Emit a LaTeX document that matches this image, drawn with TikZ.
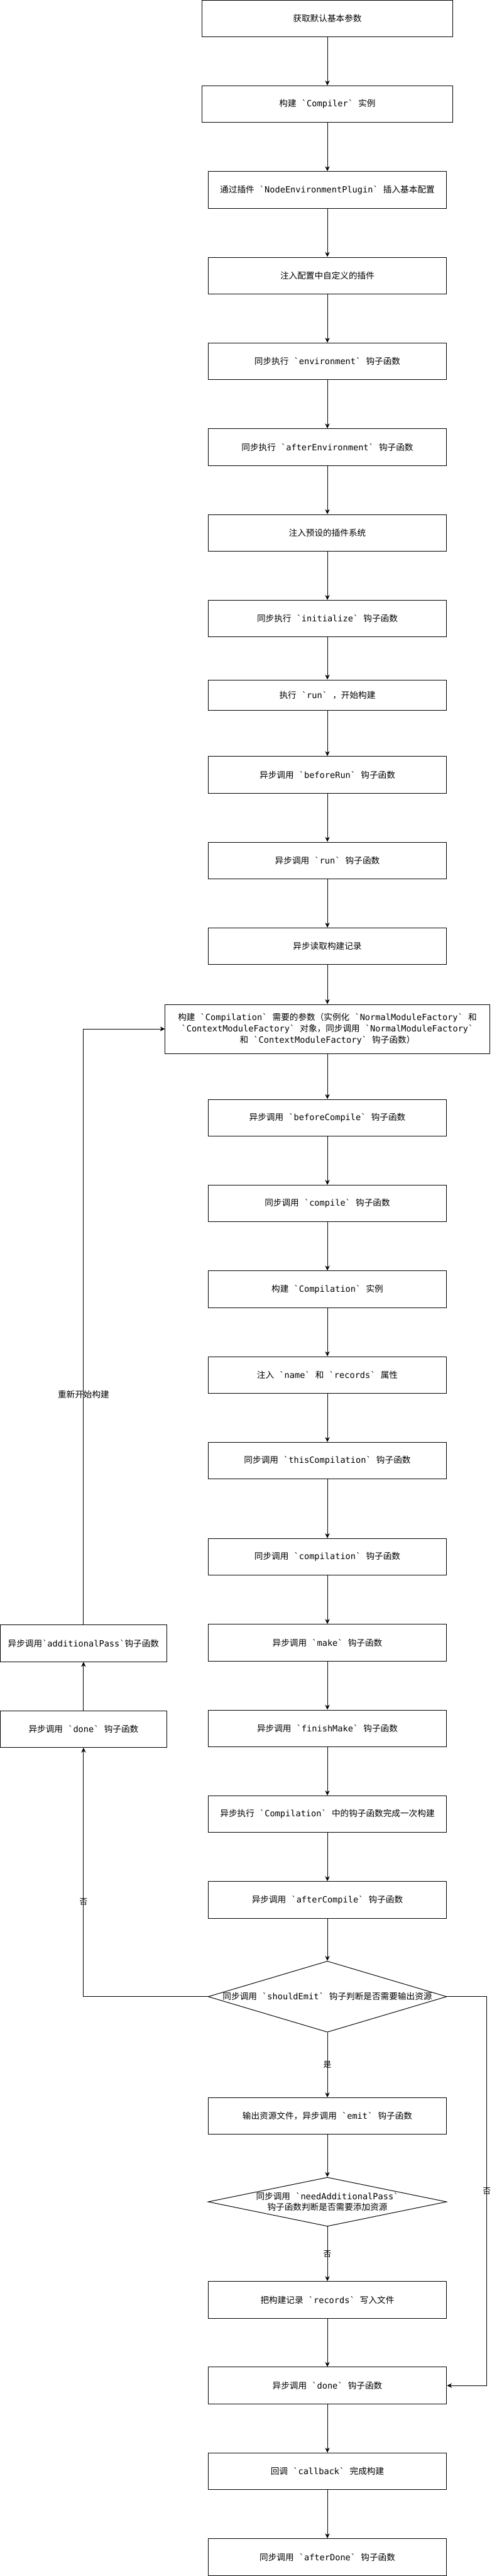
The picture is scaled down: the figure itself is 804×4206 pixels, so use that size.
\documentclass[tikz,border=0pt]{standalone}
\usepackage{fontspec}
\setmonofont{DejaVu Sans Mono}
\newfontfamily\cjkfont{Noto Sans CJK SC}
\newcommand\zh[1]{{\cjkfont #1}}
\usetikzlibrary{arrows.meta,shapes.geometric}

\begin{document}
\begin{tikzpicture}[x=1pt,y=-1pt,
  txt/.style={font=\ttfamily\fontsize{14}{18}\selectfont},
  box/.style={txt,draw,line width=1pt,minimum width=390,minimum height=60,inner sep=0,align=center},
  widebox/.style={box,minimum width=410},
  decision/.style={draw,line width=1pt,shape=diamond,minimum width=390,minimum height=116,inner sep=0},
  arr/.style={line width=1pt,-{Stealth[length=8pt,width=7.5pt,inset=2.5pt]}},
  elab/.style={font=\cjkfont\fontsize{13}{15}\selectfont,inner sep=0}
]
\useasboundingbox (0,0) rectangle (804,4206);

\node[widebox] (n1) at (535,30.5) {\zh{获取默认基本参数}};
\node[widebox] (n2) at (535,170) {\zh{构建} `Compiler` \zh{实例}};
\node[box] (n3) at (535,310) {\zh{通过插件} `NodeEnvironmentPlugin` \zh{插入基本配置}};
\node[box] (n4) at (535,450) {\zh{注入配置中自定义的插件}};
\node[box] (n5) at (535,590) {\zh{同步执行} `environment` \zh{钩子函数}};
\node[box] (n6) at (535,730) {\zh{同步执行} `afterEnvironment` \zh{钩子函数}};
\node[box] (n7) at (535,870) {\zh{注入预设的插件系统}};
\node[box] (n8) at (535,1010) {\zh{同步执行} `initialize` \zh{钩子函数}};
\node[box,minimum height=50] (n9) at (535,1135) {\zh{执行} `run` \zh{，开始构建}};
\node[box] (n10) at (535,1265) {\zh{异步调用} `beforeRun` \zh{钩子函数}};
\node[box] (n11) at (535,1405) {\zh{异步调用} `run` \zh{钩子函数}};
\node[box] (n12) at (535,1545) {\zh{异步读取构建记录}};
\node[box,minimum width=530,minimum height=80] (n13) at (535,1680)
  {\zh{构建} `Compilation` \zh{需要的参数（实例化} `NormalModuleFactory` \zh{和}\\
   `ContextModuleFactory` \zh{对象，同步调用} `NormalModuleFactory`\\
   \zh{和} `ContextModuleFactory` \zh{钩子函数）}};
\node[box] (n14) at (535,1825) {\zh{异步调用} `beforeCompile` \zh{钩子函数}};
\node[box] (n15) at (535,1965) {\zh{同步调用} `compile` \zh{钩子函数}};
\node[box] (n16) at (535,2105) {\zh{构建} `Compilation` \zh{实例}};
\node[box] (n17) at (535,2245) {\zh{注入} `name` \zh{和} `records` \zh{属性}};
\node[box] (n18) at (535,2385) {\zh{同步调用} `thisCompilation` \zh{钩子函数}};
\node[box] (n19) at (535,2542) {\zh{同步调用} `compilation` \zh{钩子函数}};
\node[box] (n20) at (535,2682) {\zh{异步调用} `make` \zh{钩子函数}};
\node[box] (n21) at (535,2822) {\zh{异步调用} `finishMake` \zh{钩子函数}};
\node[box] (n22) at (535,2962) {\zh{异步执行} `Compilation` \zh{中的钩子函数完成一次构建}};
\node[box] (n23) at (535,3102) {\zh{异步调用} `afterCompile` \zh{钩子函数}};
\node[decision,label={[txt,align=center]center:{\zh{同步调用} `shouldEmit` \zh{钩子判断是否需要输出资源}}}] (d1) at (535,3260) {};
\node[box] (n24) at (535,3455) {\zh{输出资源文件，异步调用} `emit` \zh{钩子函数}};
\node[decision,minimum height=80,label={[txt,align=center]center:{\zh{同步调用} `needAdditionalPass`\\ \zh{钩子函数判断是否需要添加资源}}}] (d2) at (535,3595) {};
\node[box] (n25) at (535,3755) {\zh{把构建记录} `records` \zh{写入文件}};
\node[box] (n26) at (535,3895) {\zh{异步调用} `done` \zh{钩子函数}};
\node[box] (n27) at (535,4035) {\zh{回调} `callback` \zh{完成构建}};
\node[box] (n28) at (535,4175) {\zh{同步调用} `afterDone` \zh{钩子函数}};
\node[box,minimum width=272] (l1) at (136.5,2683) {\zh{异步调用}`additionalPass`\zh{钩子函数}};
\node[box,minimum width=272] (l2) at (136.5,2823) {\zh{异步调用} `done` \zh{钩子函数}};

\coordinate (r1) at (795.5,3260);

\foreach \a/\b in {n1/n2,n2/n3,n3/n4,n4/n5,n5/n6,n6/n7,n7/n8,n8/n9,n9/n10,n10/n11,n11/n12,n12/n13,n13/n14,n14/n15,n15/n16,n16/n17,n17/n18,n18/n19,n19/n20,n20/n21,n21/n22,n22/n23,n23/d1,n24/d2,n25/n26,n26/n27,n27/n28}
  \draw[arr] (\a) -- (\b);
\draw[arr] (d1) -- node[elab]{是} (n24);
\draw[arr] (d2) -- node[elab]{否} (n25);
\draw[arr] (d1.west) -| node[elab,pos=0.69]{否} (l2.south);
\draw[arr] (d1.east) -- (r1) |- node[elab,pos=0.25]{否} (n26.east);
\draw[arr] (l2) -- (l1);
\draw[arr] (l1.north) |- node[elab,font=\cjkfont\fontsize{14}{16}\selectfont,pos=0.193]{重新开始构建} (n13.west);
\end{tikzpicture}
\end{document}
